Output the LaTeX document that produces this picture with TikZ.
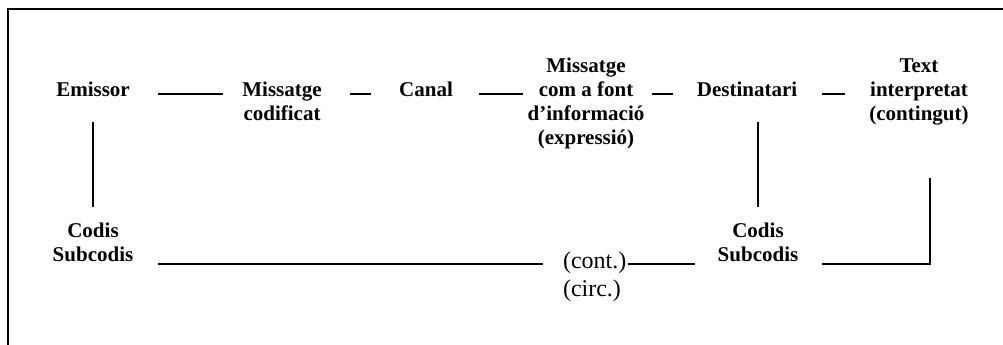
\documentclass[tikz,border=0pt]{standalone}
\usepackage{fontspec}
\setmainfont{Liberation Serif}
\usetikzlibrary{calc}
\begin{document}
\begin{tikzpicture}[x=1pt,y=-1pt,
  lbl/.style={inner sep=0pt,outer sep=0pt,align=center,anchor=base,
    font={\fontsize{21}{24}\selectfont\bfseries}},
  sublbl/.style={inner sep=0pt,outer sep=0pt,align=left,anchor=base west,
    font={\fontsize{24}{28}\selectfont}},
  conn/.style={line width=1.5pt},
  frame/.style={line width=2pt}]
\useasboundingbox (0,0) rectangle (1003,345);
\draw[frame] (1003,9) -- (8,9) -- (8,345);

\node[lbl] (emissor) at (93,96) {Emissor};
\node[lbl] (codificat) at (282,120) {Missatge\\codificat};
\node[lbl] (canal) at (426,96) {Canal};
\node[lbl] (font) at (586,144) {Missatge\\com a font\\d’informació\\(expressió)};
\node[lbl] (dest) at (747,96) {Destinatari};
\node[lbl] (text) at (919,120) {Text\\interpretat\\(contingut)};
\node[lbl] (codisL) at (93,261) {Codis\\Subcodis};
\node[lbl] (codisR) at (758,261) {Codis\\Subcodis};
\node[sublbl] (cont) at (563,296) {(cont.)\\(circ.)};
\coordinate (tend) at (930,178);

\draw[conn] ([xshift=28.5pt,yshift=2pt]emissor.base east) -- ([xshift=-19pt,yshift=26pt]codificat.base west);
\draw[conn] ([xshift=28pt,yshift=26pt]codificat.base east) -- ([xshift=-28pt,yshift=2pt]canal.base west);
\draw[conn] ([xshift=26pt,yshift=2pt]canal.base east) -- ([xshift=-4.7pt,yshift=50pt]font.base west);
\draw[conn] ([xshift=7.7pt,yshift=50pt]font.base east) -- ([xshift=-23.5pt,yshift=2pt]dest.base west);
\draw[conn] ([xshift=24.5pt,yshift=2pt]dest.base east) -- ([xshift=-24.4pt,yshift=26pt]text.base west);

\draw[conn] ([yshift=-26pt]emissor.base) -- ([yshift=54pt]codisL.base);
\draw[conn] ($(dest.base -| codisR.base)+(0,26)$) -- ([yshift=54pt]codisR.base);

\draw[conn] ([xshift=24.7pt,yshift=-3pt]codisL.base east) -- ([xshift=-20pt,yshift=32pt]cont.base west);
\draw[conn] ([xshift=2pt,yshift=32pt]cont.base east) -- ([xshift=-22.7pt,yshift=-3pt]codisR.base west);
\draw[conn] ([xshift=23.7pt,yshift=-3pt]codisR.base east) -| (tend);
\end{tikzpicture}
\end{document}
